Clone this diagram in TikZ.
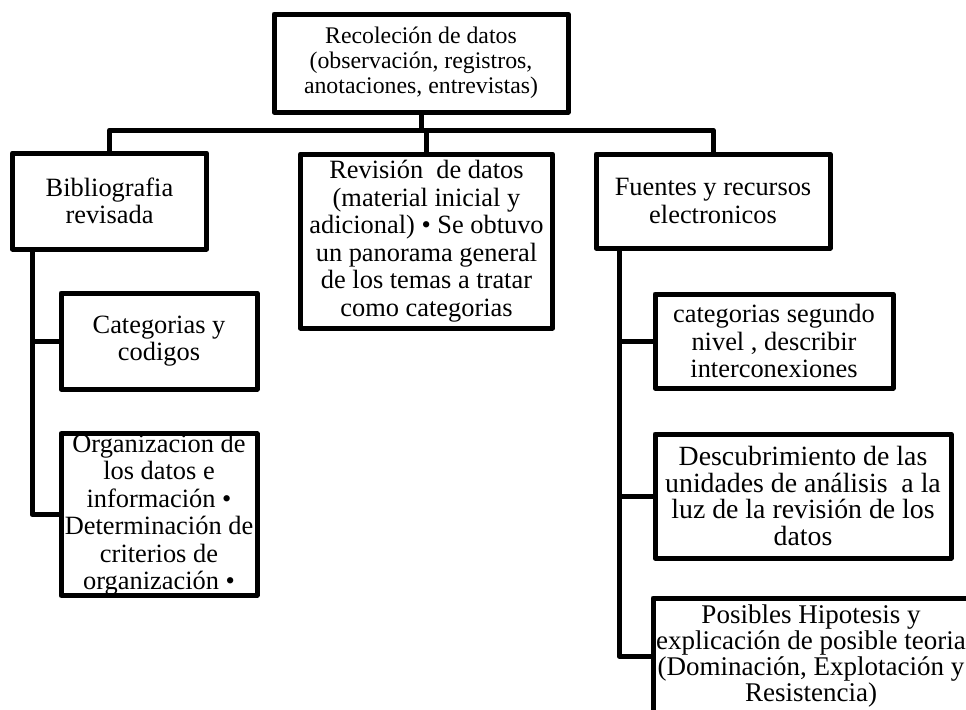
\documentclass[tikz,border=0pt]{standalone}
\usepackage{fontspec}
\setmainfont{Liberation Serif}
\usetikzlibrary{positioning}

\begin{document}
\begin{tikzpicture}[
    x=0.5pt,
    y=-0.5pt,
    box/.style={
        draw,
        line width=2.5pt,
        line join=round,
        align=center,
        inner sep=0pt,
        font=\fontsize{13.2}{13.75}\selectfont,
    },
    link/.style={
        line width=2.5pt,
        line join=round,
    }
]
    \useasboundingbox (0,0) rectangle (966,709);
    \clip (0,0) rectangle (966,709);

    % Root
    \node[box, minimum width=147pt, minimum height=49pt, font=\fontsize{11.9}{12.6}\selectfont] (recol) at (421,63)
        {Recoleción de datos\\(observación, registros,\\anotaciones, entrevistas)};

    % First level
    \node[box, minimum width=97pt, minimum height=48pt] (biblio) at (109.5,201)
        {Bibliografia\\revisada};
    \node[box, minimum width=126pt, minimum height=87pt] (revision) at (426.5,241)
        {Revisión~ de datos\\(material inicial y\\adicional) • Se obtuvo\\un panorama general\\de los temas a tratar\\como categorias};
    \node[box, minimum width=117pt, minimum height=47pt] (fuentes) at (713,201)
        {Fuentes y recursos\\electronicos};

    % Left branch
    \node[box, minimum width=98pt, minimum height=48pt] (categ) at (159,341)
        {Categorias y\\codigos};
    \node[box, minimum width=98pt, minimum height=80pt] (organiz) at (159,514.5)
        {Organizacion de\\los datos e\\información •\\Determinación de\\criterios de\\organización •};

    % Right branch
    \node[box, minimum width=119pt, minimum height=47pt] (segundo) at (774,341)
        {categorias segundo\\nivel , describir\\interconexiones};
    \node[box, minimum width=148pt, minimum height=62pt, font=\fontsize{13.9}{13.4}\selectfont] (descub) at (803,496)
        {Descubrimiento de las\\unidades de análisis~ a la\\luz de la revisión de los\\datos};
    \node[box, minimum width=158pt, minimum height=58pt, font=\fontsize{13.5}{13}\selectfont] (hipot) at (811,656)
        {Posibles Hipotesis y\\explicación de posible teoria\\(Dominación, Explotación y\\Resistencia)};

    % Connectors
    \coordinate (bar) at (0,130);
    \coordinate (lspine) at (32,0);
    \coordinate (rspine) at (619,0);

    \draw[link] (recol.south) -- (recol.south |- bar);
    \draw[link] (biblio.north) -- (biblio.north |- bar) -- (fuentes.north |- bar) -- (fuentes.north);
    \draw[link] (revision.north) -- (revision.north |- bar);

    \draw[link] (biblio.south -| lspine) |- (organiz.west);
    \draw[link] (categ.west) -- (categ.west -| lspine);

    \draw[link] (fuentes.south -| rspine) |- (hipot.west);
    \draw[link] (segundo.west) -- (segundo.west -| rspine);
    \draw[link] (descub.west) -- (descub.west -| rspine);
\end{tikzpicture}
\end{document}
